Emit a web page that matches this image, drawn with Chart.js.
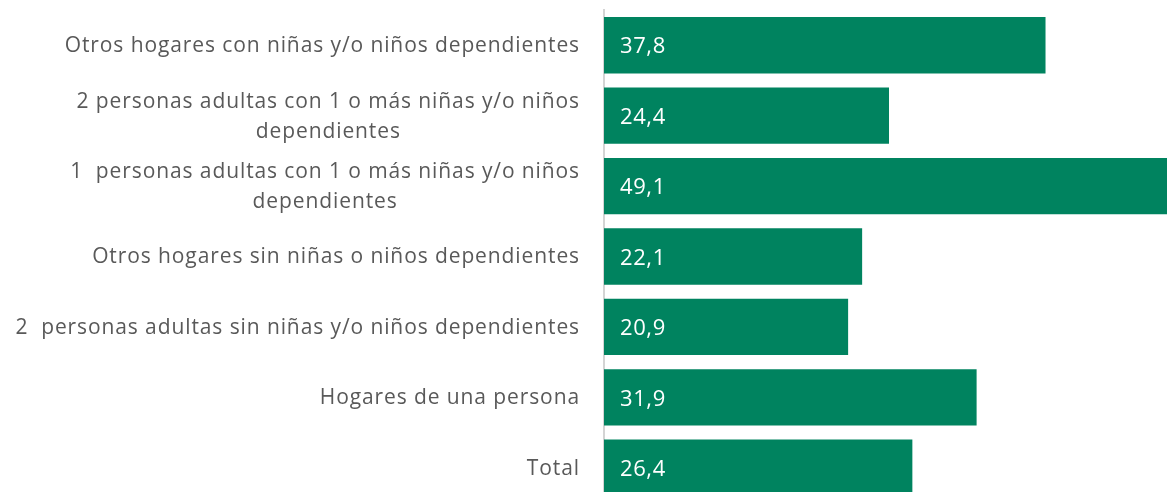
<!DOCTYPE html>
<html>
<head>
<meta charset="utf-8">
<script src="https://cdn.jsdelivr.net/npm/chart.js@4"></script>
<style>
  html, body { margin: 0; padding: 0; background: #fff; overflow: hidden; }
  #wrap { width: 1167px; height: 503px; }
</style>
</head>
<body>
<div id="wrap"><canvas id="barChart"></canvas></div>
<script>
const categories = [
    ["Otros hogares con niñas y/o niños dependientes"],
    ["2 personas adultas con 1 o más niñas y/o niños", "dependientes"],
    ["1  personas adultas con 1 o más niñas y/o niños", "dependientes"],
    ["Otros hogares sin niñas o niños dependientes"],
    ["2  personas adultas sin niñas y/o niños dependientes"],
    ["Hogares de una persona"],
    ["Total"]
];
const values = [37.8, 24.4, 49.1, 22.1, 20.9, 31.9, 26.4];

const labelFont = "21px 'Open Sans', sans-serif";
const valueFont = "22px 'Open Sans', sans-serif";

// category labels: right aligned block, lines centred inside it
const categoryLabels = {
    id: "categoryLabels",
    afterDraw(chart) {
        const c = chart.ctx;
        const yScale = chart.scales.y;
        const right = yScale.right - 24;
        c.save();
        c.font = labelFont;
        c.letterSpacing = "0.9px";
        c.fillStyle = "#595959";
        c.textAlign = "center";
        c.textBaseline = "middle";
        categories.forEach((lines, i) => {
            const w = Math.max(...lines.map(l => c.measureText(l).width));
            const cx = right - w / 2;
            const cy = yScale.getPixelForTick(i);
            const lh = 30;
            lines.forEach((l, k) => {
                c.fillText(l, cx, cy + 1 + (k - (lines.length - 1) / 2) * lh);
            });
        });
        c.restore();
    }
};

// values inside the bars, near the base
const valueLabels = {
    id: "valueLabels",
    afterDatasetsDraw(chart) {
        const c = chart.ctx;
        const meta = chart.getDatasetMeta(0);
        c.save();
        c.font = valueFont;
        c.letterSpacing = "0.6px";
        c.fillStyle = "#ffffff";
        c.textAlign = "left";
        c.textBaseline = "middle";
        meta.data.forEach((bar, i) => {
            c.fillText(values[i].toFixed(1).replace(".", ","), bar.base + 16, bar.y + 2);
        });
        c.restore();
    }
};

new Chart(document.getElementById("barChart"), {
    type: "bar",
    data: {
        labels: categories,
        datasets: [{
            data: values,
            backgroundColor: "#00835f",
            barPercentage: 0.8,
            categoryPercentage: 1.0
        }]
    },
    options: {
        indexAxis: "y",
        responsive: true,
        maintainAspectRatio: false,
        animation: false,
        layout: { padding: { top: 10, bottom: 0, left: 0, right: 0 } },
        plugins: {
            legend: { display: false },
            tooltip: { enabled: false }
        },
        scales: {
            x: {
                display: false,
                min: 0,
                max: 48.2
            },
            y: {
                grid: { display: false, drawTicks: false },
                border: { display: true, color: "#d4d4d4", width: 2 },
                ticks: { display: false },
                afterFit(scale) { scale.width = 604; }
            }
        }
    },
    plugins: [categoryLabels, valueLabels]
});
</script>
</body>
</html>
